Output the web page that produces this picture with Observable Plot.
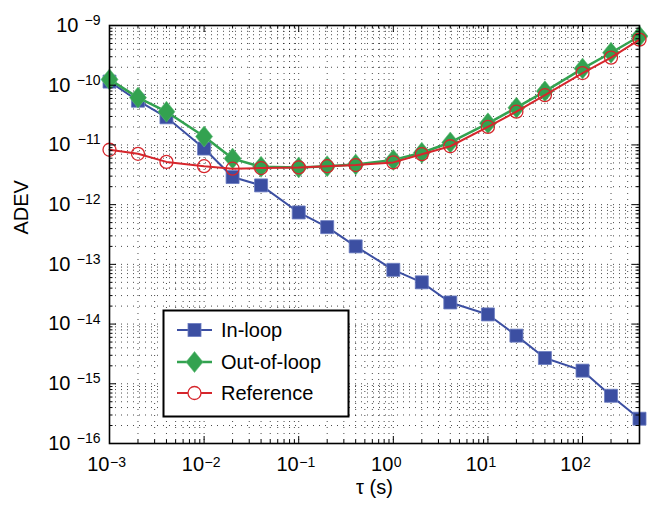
<!DOCTYPE html>
<html><head><meta charset="utf-8">
<script src="https://cdn.jsdelivr.net/npm/d3@7"></script>
<script src="https://cdn.jsdelivr.net/npm/@observablehq/plot@0.6"></script>
<style>
body{margin:0;background:#fff;}
#chart{width:648px;height:508px;}
svg text{font-family:"Liberation Sans",Arial,Helvetica,sans-serif;}
</style></head><body><div id="chart"></div>
<script>
const tau = [1e-3, 2e-3, 4e-3, 1e-2, 2e-2, 4e-2, 0.1, 0.2, 0.4, 1, 2, 4, 10, 20, 40, 100, 200, 400];
const inLoop = [1.15e-10, 5.5e-11, 2.9e-11, 8.7e-12, 2.9e-12, 2.1e-12, 7.4e-13, 4.2e-13, 2.0e-13, 8.1e-14, 5.0e-14, 2.3e-14, 1.45e-14, 6.4e-15, 2.7e-15, 1.66e-15, 6.3e-16, 2.6e-16];
const outOfLoop = [1.25e-10, 6.2e-11, 3.6e-11, 1.38e-11, 5.9e-12, 4.3e-12, 4.2e-12, 4.4e-12, 4.7e-12, 5.6e-12, 7.4e-12, 1.1e-11, 2.3e-11, 4.2e-11, 7.9e-11, 1.9e-10, 3.5e-10, 6.6e-10];
const reference = [8.3e-12, 7.1e-12, 5.2e-12, 4.4e-12, 4.0e-12, 4.1e-12, 4.2e-12, 4.4e-12, 4.6e-12, 5.1e-12, 7.0e-12, 9.5e-12, 2.0e-11, 3.6e-11, 6.8e-11, 1.6e-10, 2.9e-10, 5.8e-10];

const seriesNames = ["In-loop", "Out-of-loop", "Reference"];
const seriesColors = ["#3C4FA2", "#33A250", "#D6262C"];

const xMajorTicks = [1e-3, 1e-2, 1e-1, 1, 10, 100];
const xTickExponents = ["\u22123", "\u22122", "\u22121", "0", "1", "2"];
const yMajorTicks = [1e-16, 1e-15, 1e-14, 1e-13, 1e-12, 1e-11, 1e-10, 1e-9];
const yTickExponents = ["\u221216", "\u221215", "\u221214", "\u221213", "\u221212", "\u221211", "\u221210", "\u22129"];
const xDomain = [1e-3, 400];
const yDomain = [1e-16, 1e-9];

function minorTicks(lo, hi) {
  const out = [];
  for (let k = Math.floor(Math.log10(lo)); k <= Math.ceil(Math.log10(hi)); k++) {
    for (let m = 1; m <= 9; m++) {
      const v = +(m * Math.pow(10, k)).toPrecision(3);
      if (v >= lo * 0.999 && v <= hi * 1.001) out.push(v);
    }
  }
  return out;
}
const xAll = minorTicks(xDomain[0], xDomain[1]);
const yAll = minorTicks(yDomain[0], yDomain[1]);
const xMinor = xAll.filter(v => !xMajorTicks.some(t => Math.abs(t - v) / t < 1e-6));
const yMinor = yAll.filter(v => !yMajorTicks.some(t => Math.abs(t - v) / t < 1e-6));

const rows = [];
[inLoop, outOfLoop, reference].forEach((vals, s) => {
  tau.forEach((t, i) => rows.push({series: seriesNames[s], tau: t, adev: vals[i]}));
});
const bySeries = name => rows.filter(r => r.series === name);

const squareSym = {draw(ctx) { ctx.rect(-6.5, -6.5, 13, 13); }};
const diamondSym = {draw(ctx) { ctx.moveTo(0, -10.5); ctx.lineTo(8.5, 0); ctx.lineTo(0, 10.5); ctx.lineTo(-8.5, 0); ctx.closePath(); }};

const W = 648, H = 508, mL = 109, mR = 9, mT = 25, mB = 65;
const pw = W - mL - mR, ph = H - mT - mB;

const gridStyle = {stroke: "#000", strokeWidth: 0.9, strokeDasharray: "1,5", strokeOpacity: 0.8};

const plot = Plot.plot({
  width: W, height: H,
  marginLeft: mL, marginRight: mR, marginTop: mT, marginBottom: mB,
  x: {type: "log", domain: xDomain, axis: null},
  y: {type: "log", domain: yDomain, axis: null},
  style: {background: "white", fontFamily: "'Liberation Sans', Arial, sans-serif"},
  marks: [
    Plot.ruleX(xAll.filter(v => v > xDomain[0] && v < xDomain[1]), {x: d => d, ...gridStyle}),
    Plot.ruleY(yAll.filter(v => v > yDomain[0] && v < yDomain[1]), {y: d => d, ...gridStyle}),
    Plot.line(bySeries("In-loop"), {x: "tau", y: "adev", stroke: seriesColors[0], strokeWidth: 2}),
    Plot.dot(bySeries("In-loop"), {x: "tau", y: "adev", symbol: squareSym, fill: seriesColors[0], stroke: "#6A7BC0", strokeWidth: 0.8}),
    Plot.line(bySeries("Out-of-loop"), {x: "tau", y: "adev", stroke: seriesColors[1], strokeWidth: 2.5}),
    Plot.dot(bySeries("Out-of-loop"), {x: "tau", y: "adev", symbol: diamondSym, fill: seriesColors[1], stroke: "#5DBB74", strokeWidth: 0.6}),
    Plot.line(bySeries("Reference"), {x: "tau", y: "adev", stroke: seriesColors[2], strokeWidth: 2}),
    Plot.dot(bySeries("Reference"), {x: "tau", y: "adev", r: 6.5, fill: "none", stroke: seriesColors[2], strokeWidth: 1.3}),
    // inside ticks
    Plot.tickX(xMajorTicks, {x: d => d, insetTop: ph - 7, stroke: "#000", strokeWidth: 1}),
    Plot.tickX(xMinor, {x: d => d, insetTop: ph - 3.5, stroke: "#000", strokeWidth: 1}),
    Plot.tickX(xMajorTicks, {x: d => d, insetBottom: ph - 7, stroke: "#000", strokeWidth: 1}),
    Plot.tickX(xMinor, {x: d => d, insetBottom: ph - 3.5, stroke: "#000", strokeWidth: 1}),
    Plot.tickY(yMajorTicks, {y: d => d, insetRight: pw - 7, stroke: "#000", strokeWidth: 1}),
    Plot.tickY(yMinor, {y: d => d, insetRight: pw - 3.5, stroke: "#000", strokeWidth: 1}),
    Plot.tickY(yMajorTicks, {y: d => d, insetLeft: pw - 7, stroke: "#000", strokeWidth: 1}),
    Plot.tickY(yMinor, {y: d => d, insetLeft: pw - 3.5, stroke: "#000", strokeWidth: 1}),
    Plot.frame({stroke: "#000", strokeWidth: 1.6}),
    // x tick labels
    Plot.text(xMajorTicks, {x: d => d, frameAnchor: "bottom", text: () => "10", textAnchor: "end", dy: 27, fontSize: 20, fill: "#000"}),
    Plot.text(xMajorTicks, {x: d => d, frameAnchor: "bottom", text: (d, i) => xTickExponents[i], textAnchor: "start", dx: 0.5, dy: 23.5, fontSize: 14, fill: "#000"}),
    // y tick labels
    Plot.text(yMajorTicks.filter((d, i) => yTickExponents[i].length > 2), {y: d => d, frameAnchor: "left", text: () => "10", textAnchor: "end", dx: -39, fontSize: 20, fill: "#000"}),
    Plot.text(yMajorTicks.filter((d, i) => yTickExponents[i].length <= 2), {y: d => d, frameAnchor: "left", text: () => "10", textAnchor: "end", dx: -31, fontSize: 20, fill: "#000"}),
    Plot.text(yMajorTicks, {y: d => d, frameAnchor: "left", text: (d, i) => yTickExponents[i], textAnchor: "end", dx: -9, dy: -5, fontSize: 14, fill: "#000"}),
    // axis labels
    Plot.text(["\u03C4 (s)"], {frameAnchor: "bottom", text: d => d, dy: 50, fontSize: 20, fill: "#000"}),
    Plot.text(["ADEV"], {frameAnchor: "left", text: d => d, rotate: -90, dx: -88, fontSize: 20, fill: "#000"})
  ]
});

// legend
const svg = d3.select(plot);
const lg = svg.append("g").attr("font-family", "'Liberation Sans', Arial, sans-serif").attr("text-anchor", "start");
lg.append("rect").attr("x", 163.5).attr("y", 310.5).attr("width", 185).attr("height", 106)
  .attr("fill", "#fff").attr("stroke", "#000").attr("stroke-width", 2);
const ly = [330, 362, 393];
seriesNames.forEach((name, i) => {
  const g = lg.append("g").attr("transform", `translate(0,${ly[i]})`);
  g.append("line").attr("x1", 177).attr("x2", 212).attr("y1", 0).attr("y2", 0)
    .attr("stroke", seriesColors[i]).attr("stroke-width", i === 1 ? 2.5 : 2);
  if (i === 0) g.append("rect").attr("x", 188).attr("y", -6.5).attr("width", 13).attr("height", 13).attr("fill", seriesColors[0]).attr("stroke", "#6A7BC0").attr("stroke-width", 0.8);
  if (i === 1) g.append("path").attr("d", "M194.5,-10.5L203,0L194.5,10.5L186,0Z").attr("fill", seriesColors[1]).attr("stroke", "#5DBB74").attr("stroke-width", 0.6);
  if (i === 2) g.append("circle").attr("cx", 194.5).attr("cy", 0).attr("r", 6.5).attr("fill", "#fff").attr("stroke", seriesColors[2]).attr("stroke-width", 1.3);
  g.append("text").attr("x", 221).attr("y", 0).attr("dy", "0.35em").attr("font-size", 20).attr("fill", "#000").attr("text-anchor", "start").text(name);
});

document.getElementById("chart").appendChild(plot);
</script>
</body></html>
